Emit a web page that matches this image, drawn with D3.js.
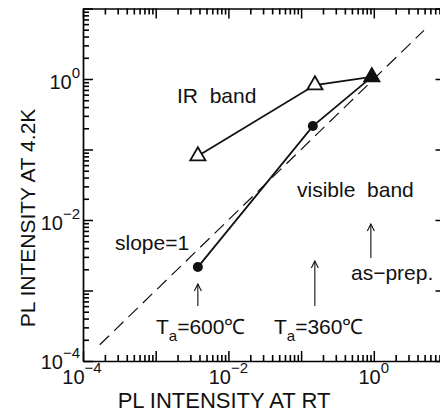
<!DOCTYPE html>
<html>
<head>
<meta charset="utf-8">
<script src="https://cdn.jsdelivr.net/npm/d3@7"></script>
<style>
  body { margin: 0; background: #fff; }
  text { font-family: "Liberation Sans", Arial, sans-serif; fill: #111; }
</style>
</head>
<body>
<div id="chart"></div>
<script>
// data (RT intensity, 4.2K intensity)
var irX = [3.8e-3, 0.155, 0.94];
var irY = [0.081, 0.82, 1.07];
var visX = [3.8e-3, 0.145, 0.94];
var visY = [2.15e-3, 0.215, 1.07];
var slopeX = [1.7e-4, 4.9];   // slope=1 reference line, y = x
var majorTicks = [1e-4, 1e-3, 1e-2, 1e-1, 1e0, 1e1];
var labelExps = [-4, -2, 0];

var width = 440, height = 412;

var x = d3.scaleLog().domain([1e-4, 1e1]).range([83, 446.5]);
var y = d3.scaleLog().domain([1e-4, 1e1]).range([361, 8.5]);

var svg = d3.select("#chart").append("svg")
  .attr("width", width)
  .attr("height", height);

// minor ticks 2..9 of every decade
var minorTicks = [];
majorTicks.slice(0, -1).forEach(function(m) {
  for (var k = 2; k <= 9; k++) minorTicks.push(m * k);
});

// frame with major ticks
function major(g) {
  g.selectAll("text").remove();
  g.selectAll("line").attr("stroke", "#000").attr("stroke-width", 1.5);
  g.select(".domain").attr("stroke", "#000").attr("stroke-width", 1.7);
}
svg.append("g").attr("transform", "translate(0," + y(1e-4) + ")")
  .call(d3.axisBottom(x).tickValues(majorTicks).tickSizeInner(-10).tickSizeOuter(0)).call(major);
svg.append("g").attr("transform", "translate(0," + y(1e1) + ")")
  .call(d3.axisTop(x).tickValues(majorTicks).tickSizeInner(-10).tickSizeOuter(0)).call(major);
svg.append("g").attr("transform", "translate(" + x(1e-4) + ",0)")
  .call(d3.axisLeft(y).tickValues(majorTicks).tickSizeInner(-10).tickSizeOuter(0)).call(major);
svg.append("g").attr("transform", "translate(" + x(1e1) + ",0)")
  .call(d3.axisRight(y).tickValues(majorTicks).tickSizeInner(-11).tickSizeOuter(0)).call(major);

// minor ticks, inward
function minor(g) {
  g.selectAll("text").remove();
  g.select(".domain").remove();
  g.selectAll("line").attr("stroke", "#000").attr("stroke-width", 1.6);
}
svg.append("g").attr("transform", "translate(0," + y(1e-4) + ")")
  .call(d3.axisBottom(x).tickValues(minorTicks).tickSize(-6)).call(minor);
svg.append("g").attr("transform", "translate(0," + y(1e1) + ")")
  .call(d3.axisTop(x).tickValues(minorTicks).tickSize(-6)).call(minor);
svg.append("g").attr("transform", "translate(" + x(1e-4) + ",0)")
  .call(d3.axisLeft(y).tickValues(minorTicks).tickSize(-6)).call(minor);

// tick labels 10^n
labelExps.forEach(function(e) {
  var v = Math.pow(10, e);
  var sup = e === 0 ? "0" : "\u2212" + (-e);
  var t = svg.append("text")
    .attr("x", x(v) + (e === -4 ? -1 : 0))
    .attr("y", y(1e-4) + 23)
    .attr("text-anchor", "middle")
    .style("font-size", "20px");
  t.append("tspan").text("10");
  t.append("tspan").attr("dy", -11).style("font-size", "15px").text(sup);

  var u = svg.append("text")
    .attr("x", x(1e-4) - 3)
    .attr("y", y(v) + (e === -4 ? 8 : 10))
    .attr("text-anchor", "end")
    .style("font-size", "20px");
  u.append("tspan").text("10");
  u.append("tspan").attr("dy", -11).style("font-size", "15px").text(sup);
});

// axis titles
svg.append("text")
  .attr("x", 224).attr("y", 408)
  .attr("text-anchor", "middle")
  .style("font-size", "22px")
  .text("PL INTENSITY AT RT");
svg.append("text")
  .attr("transform", "translate(35,218) rotate(-90)")
  .attr("text-anchor", "middle")
  .style("font-size", "21px")
  .text("PL INTENSITY AT 4.2K");

// slope = 1 dashed line
svg.append("path")
  .datum(slopeX)
  .attr("d", d3.line().x(function(d) { return x(d); }).y(function(d) { return y(d); }))
  .attr("fill", "none")
  .attr("stroke", "#111")
  .attr("stroke-width", 1.2)
  .attr("stroke-dasharray", "13,7");

var line = d3.line()
  .x(function(d) { return x(d[0]); })
  .y(function(d) { return y(d[1]); });

var irPts = d3.zip(irX, irY);
var visPts = d3.zip(visX, visY);

svg.append("path").datum(irPts).attr("d", line)
  .attr("fill", "none").attr("stroke", "#111").attr("stroke-width", 1.8);
svg.append("path").datum(visPts).attr("d", line)
  .attr("fill", "none").attr("stroke", "#111").attr("stroke-width", 1.8);

var tri = d3.symbol().type(d3.symbolTriangle).size(100);

// open triangles (IR band), last point filled (as-prep.)
svg.selectAll(".ir").data(irPts).enter().append("path")
  .attr("class", "ir")
  .attr("d", tri)
  .attr("transform", function(d) { return "translate(" + x(d[0]) + "," + y(d[1]) + ")"; })
  .attr("fill", function(d, i) { return i === irPts.length - 1 ? "#111" : "#fff"; })
  .attr("stroke", "#111")
  .attr("stroke-width", 1.8);

// filled circles (visible band)
svg.selectAll(".vis").data(visPts.slice(0, -1)).enter().append("circle")
  .attr("class", "vis")
  .attr("cx", function(d) { return x(d[0]); })
  .attr("cy", function(d) { return y(d[1]); })
  .attr("r", 5)
  .attr("fill", "#111");

// text annotations
function note(tx, ty, str) {
  return svg.append("text")
    .attr("x", tx).attr("y", ty)
    .style("font-size", "21px")
    .style("white-space", "pre")
    .text(str);
}
note(177, 103, "IR  band");
note(297, 197, "visible  band");
note(115, 250, "slope=1");
note(351, 280, "as\u2212prep.");

function tempLabel(tx, ty, temp) {
  var t = svg.append("text").attr("x", tx).attr("y", ty).style("font-size", "21px");
  t.append("tspan").text("T");
  t.append("tspan").attr("dy", 7).style("font-size", "15px").text("a");
  t.append("tspan").attr("dy", -7).text("=" + temp + "\u2103");
}
tempLabel(156, 334, "600");
tempLabel(274, 334, "360");

// upward arrows
function arrow(ax, y0, y1) {
  svg.append("line").attr("x1", ax).attr("x2", ax).attr("y1", y0).attr("y2", y1)
    .attr("stroke", "#111").attr("stroke-width", 1.1);
  svg.append("path")
    .attr("d", "M" + (ax - 3.5) + "," + (y1 + 7) + "L" + ax + "," + y1 + "L" + (ax + 3.5) + "," + (y1 + 7))
    .attr("fill", "none").attr("stroke", "#111").attr("stroke-width", 1.1);
}
arrow(x(visX[0]), 306, 284);
arrow(x(visX[1]) + 2, 306, 261);
arrow(x(visX[2]) - 1, 258, 224);
</script>
</body>
</html>
